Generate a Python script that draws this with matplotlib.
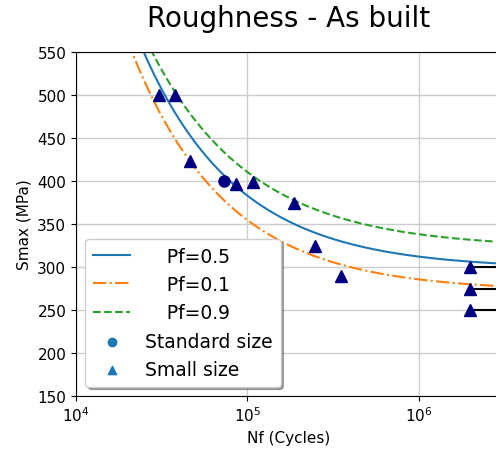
import numpy as np
import matplotlib
matplotlib.use('Agg')
import matplotlib.pyplot as plt

plt.rcParams['font.size'] = 11

# test data
std_N = [73000]
std_S = [400]
small_N = [30500, 37800, 46400, 86000, 108000, 187000, 249000, 351000, 2e6, 2e6, 2e6]
small_S = [500, 500, 423, 397, 399, 374, 324, 289, 300, 275, 250]
runout_N = [2e6, 2e6, 2e6]
runout_S = [300, 275, 250]

# S-N model S = Se + K * (N / 1e5) ** -b, one row per probability
pf_labels = ['   \u2009Pf=0.5', '   \u2009Pf=0.1', '   \u2009Pf=0.9']
pf_Se = [298, 272, 322]
pf_K = [85, 82.6, 88.5]
pf_b = [0.78, 0.783, 0.739]
pf_colors = ['C0', 'C1', 'C2']
pf_styles = ['-', '-.', '--']

fig = plt.figure(figsize=(4.96, 4.52), dpi=100)
ax = fig.add_axes([76 / 496, 55 / 452, 424.4 / 496, 344 / 452])

N = np.logspace(4, np.log10(3e6), 400)
for lab, se, k, b, c, ls in zip(pf_labels, pf_Se, pf_K, pf_b, pf_colors, pf_styles):
    ax.plot(N, se + k * (N / 1e5) ** (-b), color=c, linestyle=ls, lw=1.5, label=lab)

for n, s in zip(runout_N, runout_S):
    ax.plot([n, 5e6], [s, s], color='black', lw=1.5, zorder=2)

ax.plot(std_N, std_S, 'o', color='navy', ms=8, zorder=3)
ax.plot(small_N, small_S, '^', color='navy', ms=8, zorder=3)

# legend proxies in default colour
ax.scatter([], [], marker='o', color='C0', label='Standard size')
ax.scatter([], [], marker='^', color='C0', label='Small size')

ax.set_xscale('log')
ax.set_xlim(1e4, 3e6)
ax.set_ylim(150, 550)
ax.minorticks_off()
ax.set_yticks(np.arange(150, 551, 50))
ax.grid(True, color='#cccccc', lw=1)
ax.set_axisbelow(True)
ax.set_xlabel('Nf (Cycles)')
ax.set_ylabel('Smax (MPa)')
ax.set_title('Roughness - As built', fontsize=20, pad=18.5)
ax.legend(loc='lower left', fontsize=13.5, shadow=True, fancybox=True)

fig.savefig('out.png', dpi=100)
